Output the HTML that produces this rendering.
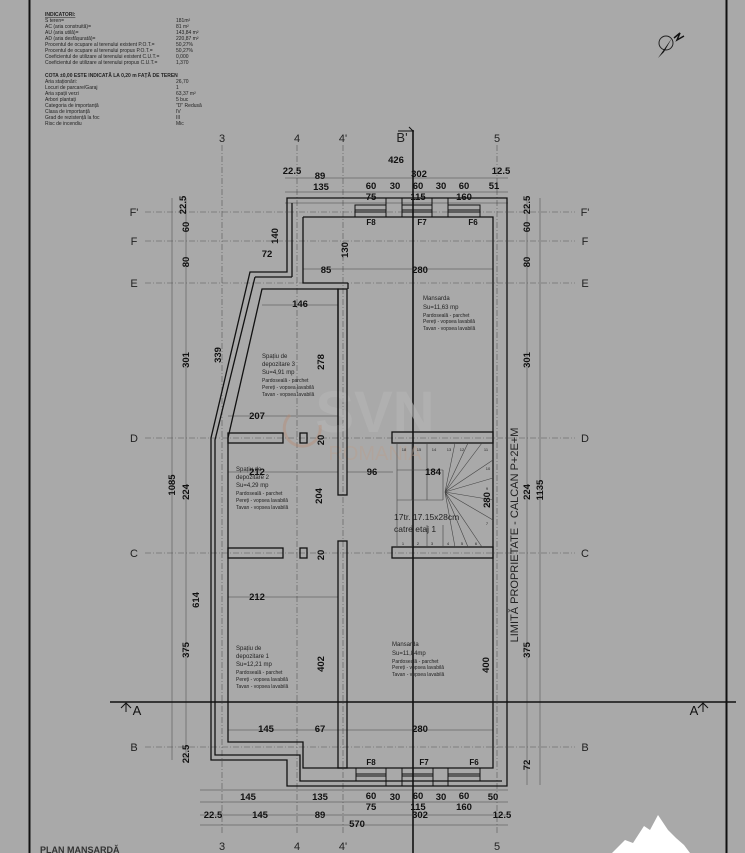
<!DOCTYPE html>
<html><head><meta charset="utf-8"><style>
html,body{margin:0;padding:0;background:#a9a9a9;}
svg{display:block;}
text{font-family:"Liberation Sans",sans-serif;}
.d{font-size:9.5px;font-weight:bold;text-anchor:middle;fill:#111;}
.g{font-size:11px;text-anchor:middle;fill:#222;}
.s{font-size:5px;fill:#222;}
.r{font-size:6px;fill:#222;}
.k{fill:#111;}
</style></head><body>
<svg width="745" height="853" viewBox="0 0 745 853" xmlns="http://www.w3.org/2000/svg">
<rect width="745" height="853" fill="#a9a9a9"/>
<line x1="29.5" y1="0" x2="29.5" y2="853" stroke="#111" stroke-width="2"/>
<line x1="726.5" y1="0" x2="726.5" y2="853" stroke="#111" stroke-width="2"/>

<g class="s">
<text x="45" y="16" font-weight="bold" text-decoration="underline">INDICATORI:</text>
<text x="45" y="22">S teren=</text><text x="176" y="22">181m²</text>
<text x="45" y="28">AC (aria construită)=</text><text x="176" y="28">81 m²</text>
<text x="45" y="34">AU (aria utilă)=</text><text x="176" y="34">143,84 m²</text>
<text x="45" y="40">AD (aria desfășurată)=</text><text x="176" y="40">220,87 m²</text>
<text x="45" y="46">Procentul de ocupare al terenului existent P.O.T.=</text><text x="176" y="46">50,27%</text>
<text x="45" y="52">Procentul de ocupare al terenului propus P.O.T.=</text><text x="176" y="52">50,27%</text>
<text x="45" y="58">Coeficientul de utilizare al terenului existent C.U.T.=</text><text x="176" y="58">0,000</text>
<text x="45" y="64">Coeficientul de utilizare al terenului propus C.U.T.=</text><text x="176" y="64">1,370</text>
<text x="45" y="77" font-weight="bold">COTA ±0,00 ESTE INDICATĂ LA 0,20 m FAȚĂ DE TEREN</text>
<text x="45" y="83">Aria staționări:</text><text x="176" y="83">26,70</text>
<text x="45" y="89">Locuri de parcare/Garaj</text><text x="176" y="89">1</text>
<text x="45" y="95">Aria spații verzi</text><text x="176" y="95">63,37 m²</text>
<text x="45" y="101">Arbori plantați</text><text x="176" y="101">5 buc</text>
<text x="45" y="107">Categoria de importanță</text><text x="176" y="107">"D" Redusă</text>
<text x="45" y="113">Clasa de importanță</text><text x="176" y="113">IV</text>
<text x="45" y="119">Grad de rezistență la foc</text><text x="176" y="119">III</text>
<text x="45" y="125">Risc de incendiu</text><text x="176" y="125">Mic</text>
</g>
<circle cx="666" cy="43" r="7" fill="none" stroke="#222" stroke-width="1"/>
<path d="M658 58 L672 38 L664 52 Z" fill="#111"/>
<path d="M674 38 L680 33 L677 40 L684 36" fill="none" stroke="#111" stroke-width="1.5"/>

<g stroke="#555" stroke-width="0.6" stroke-dasharray="6 2 1 2">
<line x1="222" y1="145" x2="222" y2="835"/>
<line x1="297" y1="145" x2="297" y2="835"/>
<line x1="343" y1="145" x2="343" y2="835"/>
<line x1="497" y1="145" x2="497" y2="835"/>
<line x1="145" y1="212" x2="575" y2="212"/>
<line x1="145" y1="241" x2="575" y2="241"/>
<line x1="145" y1="283" x2="575" y2="283"/>
<line x1="145" y1="438" x2="575" y2="438"/>
<line x1="145" y1="553" x2="575" y2="553"/>
<line x1="145" y1="747" x2="575" y2="747"/>
</g>
<g stroke="#444" stroke-width="0.5">
<line x1="285" y1="178" x2="508" y2="178"/>
<line x1="285" y1="192" x2="508" y2="192"/>
<line x1="285" y1="203" x2="508" y2="203"/>
<line x1="200" y1="790" x2="508" y2="790"/>
<line x1="200" y1="802" x2="508" y2="802"/>
<line x1="200" y1="815" x2="508" y2="815"/>
<line x1="200" y1="825" x2="508" y2="825"/>
<line x1="172" y1="198" x2="172" y2="760"/>
<line x1="186" y1="198" x2="186" y2="760"/>
<line x1="527" y1="198" x2="527" y2="785"/>
<line x1="540" y1="198" x2="540" y2="785"/>
<line x1="228" y1="416" x2="338" y2="416"/>
<line x1="228" y1="472" x2="338" y2="472"/>
<line x1="228" y1="597" x2="338" y2="597"/>
<line x1="228" y1="730" x2="493" y2="730"/>
<line x1="262" y1="305" x2="338" y2="305"/>
<line x1="347" y1="472" x2="393" y2="472"/>
<line x1="303" y1="269" x2="493" y2="269"/>
</g>

<line x1="413" y1="130" x2="413" y2="853" stroke="#111" stroke-width="1.6"/>
<path d="M398 131 L413 131 L409 127" fill="none" stroke="#111" stroke-width="1"/>
<line x1="110" y1="702" x2="736" y2="702" stroke="#111" stroke-width="1.6"/>
<path d="M126 712 L126 703 M121 708 L126 703 L131 708" fill="none" stroke="#111" stroke-width="1"/>
<path d="M703 712 L703 703 M698 708 L703 703 L708 708" fill="none" stroke="#111" stroke-width="1"/>
<text class="k" x="137" y="715" font-size="13" text-anchor="middle">A</text>
<text class="k" x="694" y="715" font-size="13" text-anchor="middle">A</text>

<!-- watermark (faint) -->
<text x="375" y="432" font-size="58" text-anchor="middle" font-weight="bold" style="fill:#b6b6b6;opacity:0.6">SVN</text>
<text x="375" y="460" font-size="20" text-anchor="middle" style="fill:#b8a090;opacity:0.5">ROMANIA</text>
<path d="M290 415 A18 18 0 1 0 320 425" fill="none" stroke="#b88a70" stroke-width="3" opacity="0.4"/>

<g fill="none" stroke="#111" stroke-width="1.3">
<path d="M287 272 L287 198 L507 198 L507 786 L287 786 L287 760 L211 760 L211 438 L250 272 Z"/>
<path d="M292 277 L292 203 M255 277 L292 277 M255 277 L215 440 L215 755 L300 755 L300 781 L502 781"/>
<path d="M303 217 L493 217 L493 768 L303 768 L303 742 L228 742 L228 443"/>
<path d="M303 217 L303 283 L348 283"/>
<path d="M228 443 L228 438 L262 289 L338 289 L338 425"/>
<rect x="338" y="289" width="9" height="206"/>
<rect x="338" y="541" width="9" height="227"/>
<line x1="348" y1="283" x2="348" y2="289"/>
<rect x="228" y="433" width="55" height="10"/>
<rect x="300" y="433" width="7" height="10"/>
<rect x="392" y="432" width="101" height="11"/>
<rect x="228" y="548" width="55" height="10"/>
<rect x="300" y="548" width="7" height="10"/>
<rect x="392" y="547" width="101" height="11"/>
</g>
<g fill="none" stroke="#111" stroke-width="1">
<rect x="355" y="205" width="31" height="12"/><line x1="355" y1="210" x2="386" y2="210"/><line x1="355" y1="212" x2="386" y2="212"/>
<rect x="386" y="198" width="16" height="19"/>
<rect x="402" y="205" width="30" height="12"/><line x1="402" y1="210" x2="432" y2="210"/><line x1="402" y1="212" x2="432" y2="212"/>
<rect x="432" y="198" width="16" height="19"/>
<rect x="448" y="205" width="32" height="12"/><line x1="448" y1="210" x2="480" y2="210"/><line x1="448" y1="212" x2="480" y2="212"/>
<rect x="356" y="768" width="30" height="13"/><line x1="356" y1="774" x2="386" y2="774"/><line x1="356" y1="776" x2="386" y2="776"/>
<rect x="386" y="768" width="16" height="18"/>
<rect x="402" y="768" width="31" height="13"/><line x1="402" y1="774" x2="433" y2="774"/><line x1="402" y1="776" x2="433" y2="776"/>
<rect x="433" y="768" width="15" height="18"/>
<rect x="448" y="768" width="32" height="13"/><line x1="448" y1="774" x2="480" y2="774"/><line x1="448" y1="776" x2="480" y2="776"/>
</g>
<g stroke="#444" stroke-width="0.6" fill="none">
<line x1="397" y1="443" x2="397" y2="547"/>
<line x1="412" y1="443" x2="412" y2="500"/><line x1="427" y1="443" x2="427" y2="500"/>
<line x1="397" y1="470" x2="443" y2="470"/><line x1="397" y1="500" x2="443" y2="500"/>
<line x1="443" y1="470" x2="443" y2="500"/>
<path d="M445 492 L455 443 M445 492 L468 443 M445 492 L482 443 M445 492 L493 460 M445 492 L493 478 M445 492 L493 500 M445 492 L493 520 M445 492 L482 547 M445 492 L468 547 M445 492 L455 547"/>
<line x1="412" y1="525" x2="412" y2="547"/><line x1="427" y1="525" x2="427" y2="547"/><line x1="443" y1="525" x2="443" y2="547"/>
</g>
<g font-size="4" text-anchor="middle" class="s">
<text x="404" y="451" font-size="4">18</text><text x="419" y="451" font-size="4">15</text><text x="434" y="451" font-size="4">14</text><text x="449" y="451" font-size="4">13</text><text x="462" y="451" font-size="4">12</text><text x="486" y="451" font-size="4">11</text>
<text x="488" y="470" font-size="4">10</text><text x="487" y="490" font-size="4">9</text><text x="487" y="505" font-size="4">8</text><text x="487" y="525" font-size="4">7</text>
<text x="403" y="545" font-size="4">1</text><text x="418" y="545" font-size="4">2</text><text x="432" y="545" font-size="4">3</text><text x="448" y="545" font-size="4">4</text><text x="462" y="545" font-size="4">5</text><text x="476" y="545" font-size="4">6</text>
</g>
<text x="394" y="520" font-size="8.5" style="fill:#222">17tr. 17.15x28cm</text>
<text x="394" y="532" font-size="8.5" style="fill:#222">catre etaj 1</text>

<g class="g">
<text x="222" y="142">3</text><text x="297" y="142">4</text><text x="343" y="142">4'</text><text x="402" y="142" font-size="13">B'</text><text x="497" y="142">5</text>
<text x="222" y="850">3</text><text x="297" y="850">4</text><text x="343" y="850">4'</text><text x="497" y="850">5</text>
<text x="134" y="216">F'</text><text x="134" y="245">F</text><text x="134" y="287">E</text><text x="134" y="442">D</text><text x="134" y="557">C</text><text x="134" y="751">B</text>
<text x="585" y="216">F'</text><text x="585" y="245">F</text><text x="585" y="287">E</text><text x="585" y="442">D</text><text x="585" y="557">C</text><text x="585" y="751">B</text>
</g>
<g class="d">
<text x="396" y="163">426</text>
<text x="292" y="174">22.5</text><text x="320" y="179">89</text><text x="419" y="177">302</text><text x="501" y="174">12.5</text>
<text x="321" y="190">135</text><text x="371" y="189">60</text><text x="395" y="189">30</text><text x="418" y="189">60</text><text x="441" y="189">30</text><text x="464" y="189">60</text><text x="494" y="189">51</text>
<text x="371" y="200">75</text><text x="418" y="200">115</text><text x="464" y="200">160</text>
<text x="267" y="257">72</text><text x="326" y="273">85</text><text x="420" y="273">280</text><text x="300" y="307">146</text>
<text x="257" y="419">207</text><text x="257" y="475">212</text><text x="372" y="475">96</text><text x="433" y="475">184</text>
<text x="257" y="600">212</text><text x="266" y="732">145</text><text x="320" y="732">67</text><text x="420" y="732">280</text>
<text x="248" y="800">145</text><text x="320" y="800">135</text><text x="371" y="799">60</text><text x="395" y="800">30</text><text x="418" y="799">60</text><text x="441" y="800">30</text><text x="464" y="799">60</text><text x="493" y="800">50</text>
<text x="371" y="810">75</text><text x="418" y="810">115</text><text x="464" y="810">160</text>
<text x="213" y="818">22.5</text><text x="260" y="818">145</text><text x="320" y="818">89</text><text x="420" y="818">302</text><text x="502" y="818">12.5</text>
<text x="357" y="827">570</text>
</g>
<g class="d">
<text transform="translate(186,205) rotate(-90)">22.5</text>
<text transform="translate(189,227) rotate(-90)">60</text>
<text transform="translate(189,262) rotate(-90)">80</text>
<text transform="translate(189,360) rotate(-90)">301</text>
<text transform="translate(175,485) rotate(-90)">1085</text>
<text transform="translate(189,492) rotate(-90)">224</text>
<text transform="translate(199,600) rotate(-90)">614</text>
<text transform="translate(189,650) rotate(-90)">375</text>
<text transform="translate(189,754) rotate(-90)">22.5</text>
<text transform="translate(278,236) rotate(-90)">140</text>
<text transform="translate(221,355) rotate(-90)">339</text>
<text transform="translate(348,250) rotate(-90)">130</text>
<text transform="translate(324,362) rotate(-90)">278</text>
<text transform="translate(324,440) rotate(-90)">20</text>
<text transform="translate(322,496) rotate(-90)">204</text>
<text transform="translate(324,555) rotate(-90)">20</text>
<text transform="translate(324,664) rotate(-90)">402</text>
<text transform="translate(489,665) rotate(-90)">400</text>
<text transform="translate(490,500) rotate(-90)">280</text>
<text transform="translate(530,205) rotate(-90)">22.5</text>
<text transform="translate(530,227) rotate(-90)">60</text>
<text transform="translate(530,262) rotate(-90)">80</text>
<text transform="translate(530,360) rotate(-90)">301</text>
<text transform="translate(530,492) rotate(-90)">224</text>
<text transform="translate(543,490) rotate(-90)">1135</text>
<text transform="translate(530,650) rotate(-90)">375</text>
<text transform="translate(530,765) rotate(-90)">72</text>
</g>
<text transform="translate(518,535) rotate(-90)" font-size="11" text-anchor="middle" style="fill:#222">LIMITĂ PROPRIETATE - CALCAN P+2E+M</text>
<g font-size="8" font-weight="bold" text-anchor="middle" class="k">
<text x="371" y="225">F8</text><text x="422" y="225">F7</text><text x="473" y="225">F6</text>
<text x="371" y="765">F8</text><text x="424" y="765">F7</text><text x="474" y="765">F6</text>
</g>
<g class="r">
<text x="262" y="358">Spațiu de</text><text x="262" y="366">depozitare 3</text><text x="262" y="374">Su=4,91 mp</text>
<text x="262" y="382" font-size="5">Pardoseală - parchet</text><text x="262" y="389" font-size="5">Pereți - vopsea lavabilă</text><text x="262" y="396" font-size="5">Tavan - vopsea lavabilă</text>
<text x="236" y="471">Spațiu de</text><text x="236" y="479">depozitare 2</text><text x="236" y="487">Su=4,29 mp</text>
<text x="236" y="495" font-size="5">Pardoseală - parchet</text><text x="236" y="502" font-size="5">Pereți - vopsea lavabilă</text><text x="236" y="509" font-size="5">Tavan - vopsea lavabilă</text>
<text x="236" y="650">Spațiu de</text><text x="236" y="658">depozitare 1</text><text x="236" y="666">Su=12,21 mp</text>
<text x="236" y="674" font-size="5">Pardoseală - parchet</text><text x="236" y="681" font-size="5">Pereți - vopsea lavabilă</text><text x="236" y="688" font-size="5">Tavan - vopsea lavabilă</text>
<text x="423" y="300">Mansarda</text><text x="423" y="309">Su=11,63 mp</text>
<text x="423" y="317" font-size="5">Pardoseală - parchet</text><text x="423" y="323" font-size="5">Pereți - vopsea lavabilă</text><text x="423" y="330" font-size="5">Tavan - vopsea lavabilă</text>
<text x="392" y="646">Mansarda</text><text x="392" y="655">Su=11,84mp</text>
<text x="392" y="663" font-size="5">Pardoseală - parchet</text><text x="392" y="669" font-size="5">Pereți - vopsea lavabilă</text><text x="392" y="676" font-size="5">Tavan - vopsea lavabilă</text>
</g>
<text x="40" y="853" font-size="9" font-weight="bold" style="fill:#333">PLAN MANSARDĂ</text>
<path d="M612 853 L625 840 L633 843 L644 826 L650 830 L658 815 L668 830 L676 838 L684 845 L690 853 Z" fill="#fff"/>
</svg>
</body></html>
